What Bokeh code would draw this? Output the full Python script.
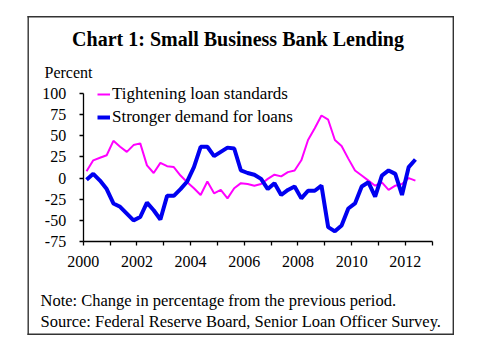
from bokeh.plotting import figure
from bokeh.models import (Legend, LegendItem, Label, BoxAnnotation, FixedTicker,
                          ColumnDataSource, LinearAxis)
from bokeh.embed import file_html
from bokeh.resources import INLINE

# ---- data (quarterly, 2000Q1 .. 2012Q2) ----
years = list(range(2000, 2013))
tightening = [8, 21, 24, 27,
              44, 37, 31, 39,
              41, 15, 6, 18,
              14, 13, 3, -5,
              -12, -20, -4, -18,
              -14, -24, -12, -6,
              -7, -9, -7, -1,
              4, 2, 7, 9,
              21, 45, 59, 74,
              69, 45, 38, 23,
              9, 3, -3, -9,
              -5, -14, -9, -7,
              0, -3]
demand = [-2, 5, -3, -13,
          -30, -34, -42, -50,
          -46, -29, -38, -49,
          -21, -21, -13, -4,
          13, 37, 37, 26,
          31, 36, 35, 9,
          6, 4, -1, -13,
          -6, -20, -14, -10,
          -24, -15, -15, -9,
          -58, -63, -56, -36,
          -30, -10, -5, -22,
          3, 9, 5, -20,
          13, 22]
periods = [(y, q) for y in years for q in (1, 2, 3, 4)][:len(tightening)]
xpos = [y + (q - 0.5) / 4 for (y, q) in periods]

x_ticks = list(range(2000, 2014))
y_ticks = [-75, -50, -25, 0, 25, 50, 75, 100]
label_t = "Tightening loan standards"
label_d = "Stronger demand for loans"
title_text = "Chart 1: Small Business Bank Lending"
note_text = "Note: Change in percentage from the previous period."
source_text = "Source: Federal Reserve Board, Senior Loan Officer Survey."

FONT = "Liberation Serif"
W, H = 480, 346
# pixel placement of the axes box
PX_L, PX_R, PX_T, PX_B = 82.7, 431.7, 93.0, 241.0
X0, X1, Y0, Y1 = 2000, 2013, -75, 100
sx = (PX_R - PX_L) / (X1 - X0)
sy = (PX_B - PX_T) / (Y1 - Y0)
xr = (X0 - PX_L / sx, X1 + (W - PX_R) / sx)
yr = (Y0 - (H - PX_B) / sy, Y1 + PX_T / sy)

src = ColumnDataSource(dict(x=xpos, t=tightening, d=demand))

p = figure(width=W, height=H, min_border=0, x_range=xr, y_range=yr,
           x_axis_location=None, y_axis_location=None,
           output_backend="svg", toolbar_location=None)
p.outline_line_color = None
p.grid.visible = False
p.background_fill_color = "white"
p.border_fill_color = "white"

r_t = p.line("x", "t", source=src, line_color="#ff00ff", line_width=2)
r_d = p.line("x", "d", source=src, line_color="#0000f0", line_width=4)

xax = LinearAxis(fixed_location=Y0, bounds=(X0, X1), ticker=FixedTicker(ticks=x_ticks))
yax = LinearAxis(fixed_location=X0, bounds=(Y0, Y1), ticker=FixedTicker(ticks=y_ticks))
xax.major_label_overrides = {t: (str(t) if t % 2 == 0 and t < 2013 else "") for t in x_ticks}
yax.major_label_overrides = {t: str(t) for t in y_ticks}
for ax in (xax, yax):
    ax.axis_line_color = "black"
    ax.axis_line_width = 1.3
    ax.major_tick_line_color = "black"
    ax.major_tick_line_width = 1.3
    ax.major_tick_in = 0
    ax.major_tick_out = 4
    ax.minor_tick_line_color = None
    ax.major_label_text_font = FONT
    ax.major_label_text_font_size = "16px"
    ax.major_label_text_color = "black"
xax.major_label_standoff = 10
yax.major_label_standoff = 13
p.add_layout(xax, "below")
p.add_layout(yax, "left")

legend = Legend(items=[LegendItem(label=label_t, renderers=[r_t]),
                       LegendItem(label=label_d, renderers=[r_d])],
                location=(97, H - 126.5), glyph_width=13, glyph_height=18,
                label_height=18, label_standoff=2, spacing=3, padding=0,
                margin=0, border_line_color=None, background_fill_alpha=0,
                label_text_font=FONT, label_text_font_size="17px",
                label_text_color="black")
p.add_layout(legend, "center")


def lab(text, cx, cy, size, style="normal", align="left"):
    p.add_layout(Label(x=cx, y=H - cy, x_units="screen", y_units="screen",
                       text=text, text_font=FONT, text_font_size=size,
                       text_font_style=style, text_align=align,
                       text_baseline="alphabetic", text_color="black"))


lab(title_text, 237.5, 38.5, "20px", "bold", "center")
lab("Percent", 44, 72, "16px")
lab(note_text, 40, 299.5, "16.5px")
lab(source_text, 40, 321, "16.5px")

# outer frame of the chart panel drawn as four thin filled strips
bx0, bx1, by_top, by_bot, bw = 27.0, 453.5, 15.5, 334.5, 1.4


def strip(l, r, t, b):
    p.add_layout(BoxAnnotation(left=l, right=r, top=H - t, bottom=H - b,
                               left_units="screen", right_units="screen",
                               top_units="screen", bottom_units="screen",
                               fill_color="#333333", fill_alpha=1, line_color=None))


strip(bx0, bx1, by_top, by_top + bw)
strip(bx0, bx1, by_bot - bw, by_bot)
strip(bx0, bx0 + bw, by_top, by_bot)
strip(bx1 - bw, bx1, by_top, by_bot)

open("out.html", "w").write(file_html(p, INLINE))
